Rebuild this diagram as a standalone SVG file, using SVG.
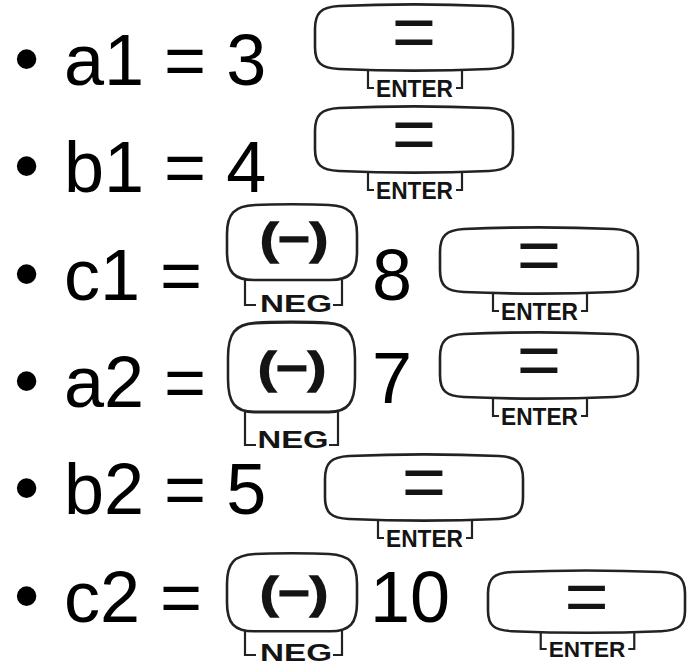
<svg xmlns="http://www.w3.org/2000/svg" xmlns:xlink="http://www.w3.org/1999/xlink" width="688" height="666" viewBox="0 0 688 666">
<style>
.t{font-family:"Liberation Sans",Arial,sans-serif;font-size:72px;fill:#000}
.eq{font-family:"Liberation Sans",Arial,sans-serif;font-size:76px;fill:#141414;text-anchor:middle}
.lbl{font-family:"Liberation Sans",Arial,sans-serif;font-weight:bold;font-size:23px;fill:#141414}
.pm{font-family:"Liberation Sans",Arial,sans-serif;font-weight:bold;font-size:44px;fill:#141414;stroke:#141414;stroke-width:1.4}
.box{fill:#fff;stroke:#222;stroke-width:2.6}
.br{fill:none;stroke:#222;stroke-width:2.2}
</style>
<defs>
<path id="enterBox" d="M24 1C70 -1 128 -1 174 1C192 2 198 8 198 24L198 42C198 58 192 63 174 64C128 66 70 66 24 64C6 63 0 58 0 42L0 24C0 8 6 2 24 1Z"/>
<path id="negBox" d="M28 0C45 -1 85 -1 102 0C123 1 130 9 130 29L130 47C130 67 123 75 103 75L27 75C7 75 0 67 0 47L0 29C0 9 7 1 28 0Z"/>
</defs>

<g id="line1">
<text class="t" x="14" y="83">•</text>
<text class="t" x="64" y="85">a1 = 3</text>
</g>
<g id="line2">
<text class="t" x="14" y="190">•</text>
<text class="t" x="64" y="192">b1 = 4</text>
</g>
<g id="line3">
<text class="t" x="14" y="298">•</text>
<text class="t" x="64" y="300">c1 =</text>
<text class="t" x="372" y="300">8</text>
</g>
<g id="line4">
<text class="t" x="14" y="405">•</text>
<text class="t" x="64" y="407">a2 =</text>
<text class="t" x="372" y="403">7</text>
</g>
<g id="line5">
<text class="t" x="14" y="512">•</text>
<text class="t" x="64" y="514">b2 = 5</text>
</g>
<g id="line6">
<text class="t" x="14" y="620">•</text>
<text class="t" x="64" y="622">c2 =</text>
<text class="t" x="370" y="622">10</text>
</g>

<g id="enter1" transform="translate(315,5)">
<use href="#enterBox" class="box"/>
<text class="eq" x="99" y="53">=</text>
<path class="br" d="M53 65V83H59M147 65V83H141"/>
<text class="lbl" x="61" y="92" textLength="77" lengthAdjust="spacingAndGlyphs">ENTER</text>
</g>
<g id="enter2" transform="translate(315,107)">
<use href="#enterBox" class="box"/>
<text class="eq" x="99" y="53">=</text>
<path class="br" d="M53 65V83H59M147 65V83H141"/>
<text class="lbl" x="61" y="92" textLength="77" lengthAdjust="spacingAndGlyphs">ENTER</text>
</g>
<g id="enter3" transform="translate(440,228)">
<use href="#enterBox" class="box"/>
<text class="eq" x="99" y="53">=</text>
<path class="br" d="M53 65V83H59M147 65V83H141"/>
<text class="lbl" x="61" y="92" textLength="77" lengthAdjust="spacingAndGlyphs">ENTER</text>
</g>
<g id="enter4" transform="translate(440,333)">
<use href="#enterBox" class="box"/>
<text class="eq" x="99" y="53">=</text>
<path class="br" d="M53 65V83H59M147 65V83H141"/>
<text class="lbl" x="61" y="92" textLength="77" lengthAdjust="spacingAndGlyphs">ENTER</text>
</g>
<g id="enter5" transform="translate(325,455)">
<use href="#enterBox" class="box"/>
<text class="eq" x="99" y="53">=</text>
<path class="br" d="M53 65V83H59M147 65V83H141"/>
<text class="lbl" x="61" y="92" textLength="77" lengthAdjust="spacingAndGlyphs">ENTER</text>
</g>
<g id="enter6" transform="translate(488,571) scale(0.995,0.94)">
<use href="#enterBox" class="box" vector-effect="non-scaling-stroke"/>
<text class="eq" x="99" y="53">=</text>
<path class="br" d="M53 65V83H59M147 65V83H141"/>
<text class="lbl" x="61" y="92" textLength="77" lengthAdjust="spacingAndGlyphs">ENTER</text>
</g>

<g id="neg1">
<use href="#negBox" class="box" transform="translate(227,205)"/>
<text class="pm" x="294" y="254" text-anchor="middle" textLength="68" lengthAdjust="spacingAndGlyphs">(−)</text>
<path class="br" d="M245 280V305H256M342 280V305H333"/>
<text class="lbl" x="296" y="312" text-anchor="middle" textLength="72" lengthAdjust="spacingAndGlyphs">NEG</text>
</g>
<g id="neg2">
<use href="#negBox" class="box" vector-effect="non-scaling-stroke" transform="translate(228,323) scale(0.977,1.187)"/>
<text class="pm" x="292" y="383" text-anchor="middle" textLength="68" lengthAdjust="spacingAndGlyphs">(−)</text>
<path class="br" d="M245 412V445H256M338 412V445H329"/>
<text class="lbl" x="293" y="448" text-anchor="middle" textLength="71" lengthAdjust="spacingAndGlyphs">NEG</text>
</g>
<g id="neg3">
<use href="#negBox" class="box" vector-effect="non-scaling-stroke" transform="translate(227,554) scale(1,1.03)"/>
<text class="pm" x="294" y="608" text-anchor="middle" textLength="68" lengthAdjust="spacingAndGlyphs">(−)</text>
<path class="br" d="M245 631V655H256M342 631V655H333"/>
<text class="lbl" x="296" y="661" text-anchor="middle" textLength="72" lengthAdjust="spacingAndGlyphs">NEG</text>
</g>
<g id="connectors"></g>
</svg>
